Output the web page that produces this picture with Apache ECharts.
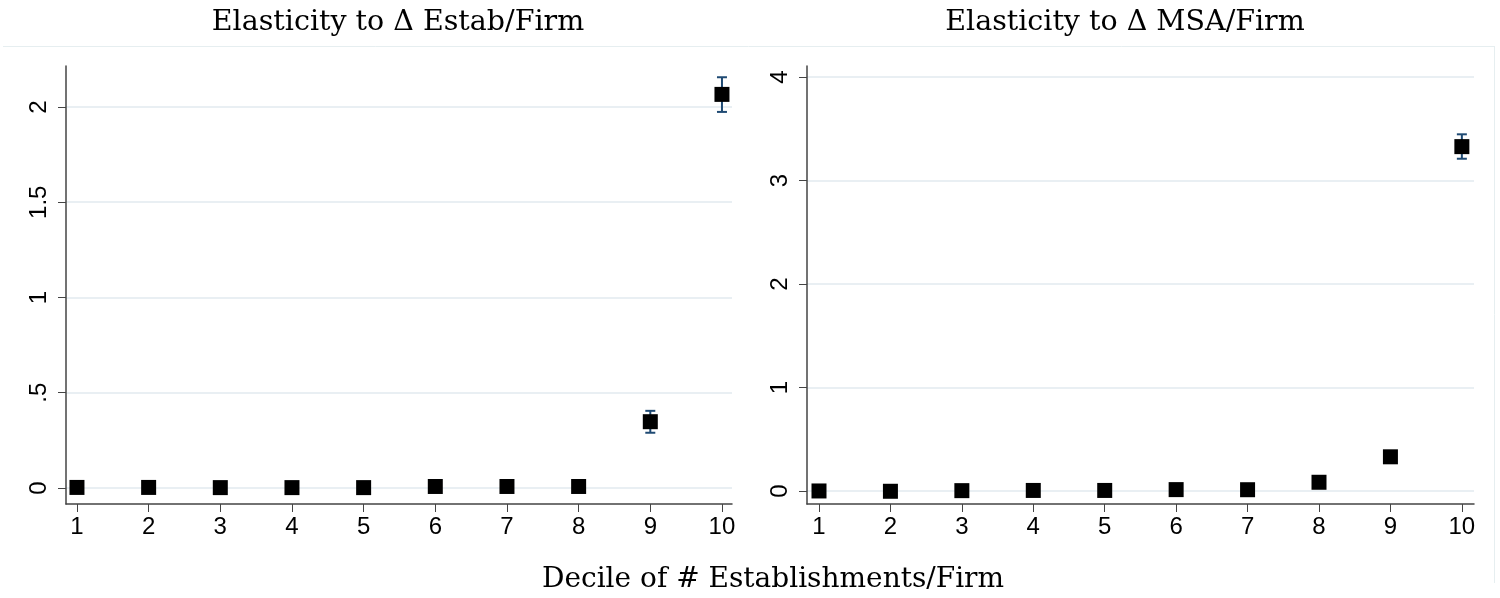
<!DOCTYPE html>
<html>
<head>
<meta charset="utf-8">
<script src="https://cdn.jsdelivr.net/npm/echarts@6/dist/echarts.min.js"></script>
<style>
  html, body { margin: 0; padding: 0; background: #fff; }
  #chart { width: 1500px; height: 598px; }
</style>
</head>
<body>
<div id="chart"></div>
<script>
// ---- data ----
const deciles = [1, 2, 3, 4, 5, 6, 7, 8, 9, 10];
const estabCoef = [0.003, 0.003, 0.002, 0.002, 0.002, 0.008, 0.008, 0.008, 0.348, 2.066];
const estabLo   = [-0.005, -0.005, -0.005, -0.005, -0.005, 0.0, 0.0, 0.0, 0.290, 1.974];
const estabHi   = [0.011, 0.011, 0.010, 0.010, 0.010, 0.016, 0.016, 0.016, 0.405, 2.156];
const msaCoef = [0.0, -0.003, 0.003, 0.005, 0.005, 0.013, 0.012, 0.084, 0.330, 3.327];
const msaLo   = [-0.02, -0.02, -0.015, -0.012, -0.012, -0.005, -0.005, 0.065, 0.295, 3.210];
const msaHi   = [0.02, 0.015, 0.02, 0.022, 0.022, 0.03, 0.03, 0.105, 0.370, 3.446];
const leftTicks = [0, 0.5, 1, 1.5, 2];
const rightTicks = [0, 1, 2, 3, 4];
const titles = ['Elasticity to \u0394 Estab/Firm', 'Elasticity to \u0394 MSA/Firm'];
const xTitle = 'Decile of # Establishments/Firm';

const AXIS = '#444';
const GRID = '#e9eff3';
const ERR = '#1f4a73';
const SERIF = 'DejaVu Serif';

function fmt(v) {
  let s = String(v);
  if (s.startsWith('0.')) s = s.slice(1);
  return s;
}

function errSeries(idx, lo, hi) {
  return {
    type: 'custom',
    xAxisIndex: idx, yAxisIndex: idx,
    data: deciles.map((d, i) => [d, lo[i], hi[i]]),
    z: 2,
    renderItem: function (params, api) {
      const x = api.value(0);
      const p1 = api.coord([x, api.value(1)]);
      const p2 = api.coord([x, api.value(2)]);
      const cw = 5;
      const st = { stroke: ERR, lineWidth: 2 };
      return {
        type: 'group',
        children: [
          { type: 'line', shape: { x1: p1[0], y1: p1[1], x2: p2[0], y2: p2[1] }, style: st },
          { type: 'line', shape: { x1: p1[0] - cw, y1: p1[1], x2: p1[0] + cw, y2: p1[1] }, style: st },
          { type: 'line', shape: { x1: p2[0] - cw, y1: p2[1], x2: p2[0] + cw, y2: p2[1] }, style: st }
        ]
      };
    }
  };
}

function xAx(idx) {
  return {
    type: 'value', gridIndex: idx,
    min: idx === 0 ? 0.847 : 0.832, max: idx === 0 ? 10.14 : 10.17,
    axisLine: { show: true, onZero: false, lineStyle: { color: AXIS, width: 1.5 } },
    axisTick: { show: true, length: 8, lineStyle: { color: AXIS, width: 1 }, customValues: deciles },
    axisLabel: { show: true, customValues: deciles, fontFamily: 'Liberation Sans', fontSize: 24, color: '#000', margin: 11 },
    splitLine: { show: false }
  };
}

function yAx(idx, ticks, mn, mx) {
  return {
    type: 'value', gridIndex: idx, min: mn, max: mx,
    axisLine: { show: true, onZero: false, lineStyle: { color: AXIS, width: 1.5 } },
    axisTick: { show: true, length: 8, lineStyle: { color: AXIS, width: 1 }, customValues: ticks },
    axisLabel: { show: true, customValues: ticks, rotate: 90, formatter: fmt, fontFamily: 'Liberation Sans', fontSize: 24, color: '#000', margin: 15 },
    splitLine: { show: true, lineStyle: { color: GRID, width: 2 } }
  };
}

const chart = echarts.init(document.getElementById('chart'), null, { renderer: 'canvas' });
chart.setOption({
  backgroundColor: '#fff',
  animation: false,
  title: [
    { text: titles[0], left: 393, top: 3, textAlign: 'center', textStyle: { fontFamily: SERIF, fontWeight: 'normal', fontSize: 28.5, color: '#000' } },
    { text: titles[1], left: 1120, top: 3, textAlign: 'center', textStyle: { fontFamily: SERIF, fontWeight: 'normal', fontSize: 28.5, color: '#000' } },
    { text: xTitle, left: 768, top: 561, textAlign: 'center', textStyle: { fontFamily: SERIF, fontWeight: 'normal', fontSize: 28, color: '#000' } }
  ],
  graphic: [
    { type: 'line', shape: { x1: 3, y1: 46.5, x2: 1494, y2: 46.5 }, style: { stroke: '#e6eef0', lineWidth: 1 }, silent: true },
    { type: 'line', shape: { x1: 1494.5, y1: 46, x2: 1494.5, y2: 583 }, style: { stroke: '#e6eef0', lineWidth: 1 }, silent: true }
  ],
  grid: [
    { left: 66, right: 768, top: 66, bottom: 94 },
    { left: 807, right: 26, top: 66, bottom: 94 }
  ],
  xAxis: [xAx(0), xAx(1)],
  yAxis: [yAx(0, leftTicks, -0.084, 2.215), yAx(1, rightTicks, -0.126, 4.106)],
  series: [
    errSeries(0, estabLo, estabHi),
    errSeries(1, msaLo, msaHi),
    { type: 'scatter', xAxisIndex: 0, yAxisIndex: 0, symbol: 'rect', symbolSize: 15, z: 3,
      itemStyle: { color: '#000', opacity: 1 }, data: deciles.map((d, i) => [d, estabCoef[i]]) },
    { type: 'scatter', xAxisIndex: 1, yAxisIndex: 1, symbol: 'rect', symbolSize: 15, z: 3,
      itemStyle: { color: '#000', opacity: 1 }, data: deciles.map((d, i) => [d, msaCoef[i]]) }
  ]
});
</script>
</body>
</html>
